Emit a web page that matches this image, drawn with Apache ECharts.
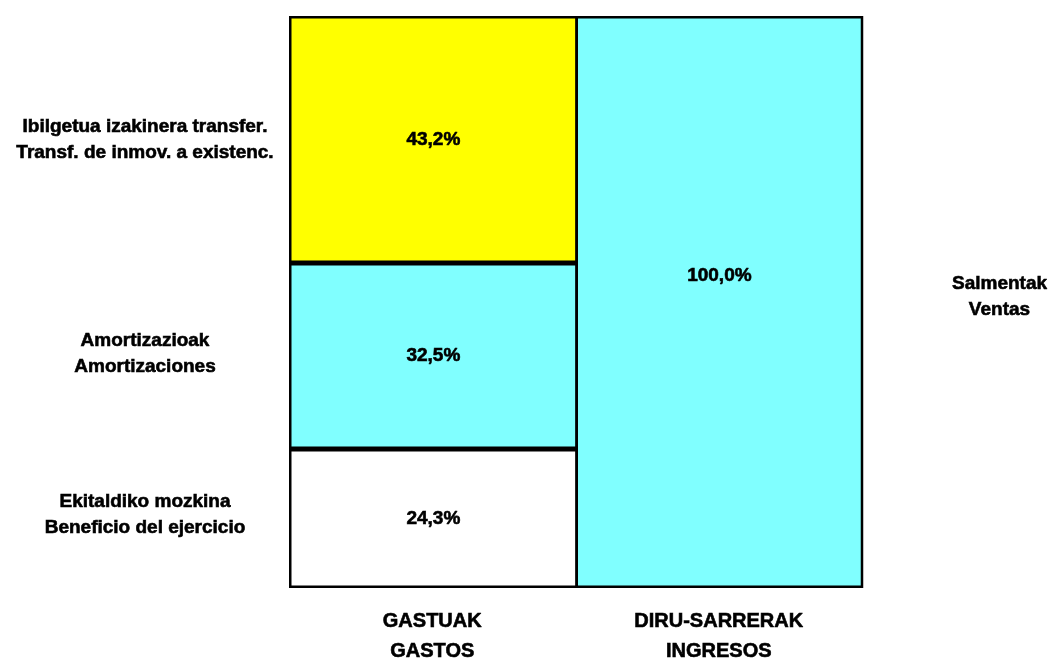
<!DOCTYPE html>
<html><head><meta charset="utf-8">
<script src="https://cdn.jsdelivr.net/npm/echarts@6/dist/echarts.min.js"></script>
<style>html,body{margin:0;padding:0;background:#fff}#c{width:1060px;height:666px}</style>
</head><body><div id="c"></div>
<script>
const categories = ['GASTUAK\nGASTOS', 'DIRU-SARRERAK\nINGRESOS'];
const profit = [24.3, '-'];
const amort = [32.5, '-'];
const transf = [43.2, '-'];
const sales = ['-', 100.0];
const names = {
  profit: 'Ekitaldiko mozkina\nBeneficio del ejercicio',
  amort: 'Amortizazioak\nAmortizaciones',
  transf: 'Ibilgetua izakinera transfer.\nTransf. de inmov. a existenc.',
  sales: 'Salmentak\nVentas'
};
const FONT = 'Liberation Sans';
const fmt = p => p.value.toFixed(1).replace('.', ',') + '%';
const TXT = { color: '#000', fontFamily: FONT, fontWeight: 'bold', textBorderColor: '#000', textBorderWidth: 0.6 };

function mainSeries(name, data, color, stack) {
  return {
    name, type: 'bar', stack: stack || 'a', data, barWidth: '100.8%', barGap: '-100%', barCategoryGap: 0,
    itemStyle: { color, borderColor: '#000', borderWidth: 2.5 },
    label: Object.assign({ show: true, position: 'inside', formatter: fmt, fontSize: 19 }, TXT),
    silent: true
  };
}
function nameSeries(name, data, pos) {
  return {
    name: name + '_lbl', type: 'bar', stack: 'b', data, barWidth: '100%', barGap: '-100%',
    itemStyle: { color: 'rgba(0,0,0,0)', borderWidth: 0 }, z: 1,
    label: Object.assign({ show: true, position: pos, align: 'center', verticalAlign: 'middle',
      formatter: () => name, fontSize: 19, lineHeight: 26 }, TXT),
    silent: true
  };
}
const salesSeries = mainSeries('sales', sales, '#80ffff', 'c');
salesSeries.label.position = ['50%', '45.5%'];
salesSeries.label.align = 'center';
salesSeries.label.verticalAlign = 'middle';

const chart = echarts.init(document.getElementById('c'));
chart.setOption({
  animation: false,
  grid: { left: 289, right: 198, top: 16, bottom: 74 },
  xAxis: { type: 'category', data: categories,
    axisLine: { show: false }, axisTick: { show: false },
    axisLabel: Object.assign({ fontSize: 20, lineHeight: 30, margin: 18 }, TXT) },
  yAxis: { type: 'value', min: 0, max: 100, show: false },
  series: [
    mainSeries('profit', profit, '#ffffff'),
    mainSeries('amort', amort, '#80ffff'),
    mainSeries('transf', transf, '#ffff00'),
    salesSeries,
    nameSeries(names.profit, profit, [-144, '47%']),
    nameSeries(names.amort, amort, [-144, '49%']),
    nameSeries(names.transf, transf, [-144, '50%']),
    nameSeries(names.sales, sales, [424, '49%'])
  ]
});
</script></body></html>
